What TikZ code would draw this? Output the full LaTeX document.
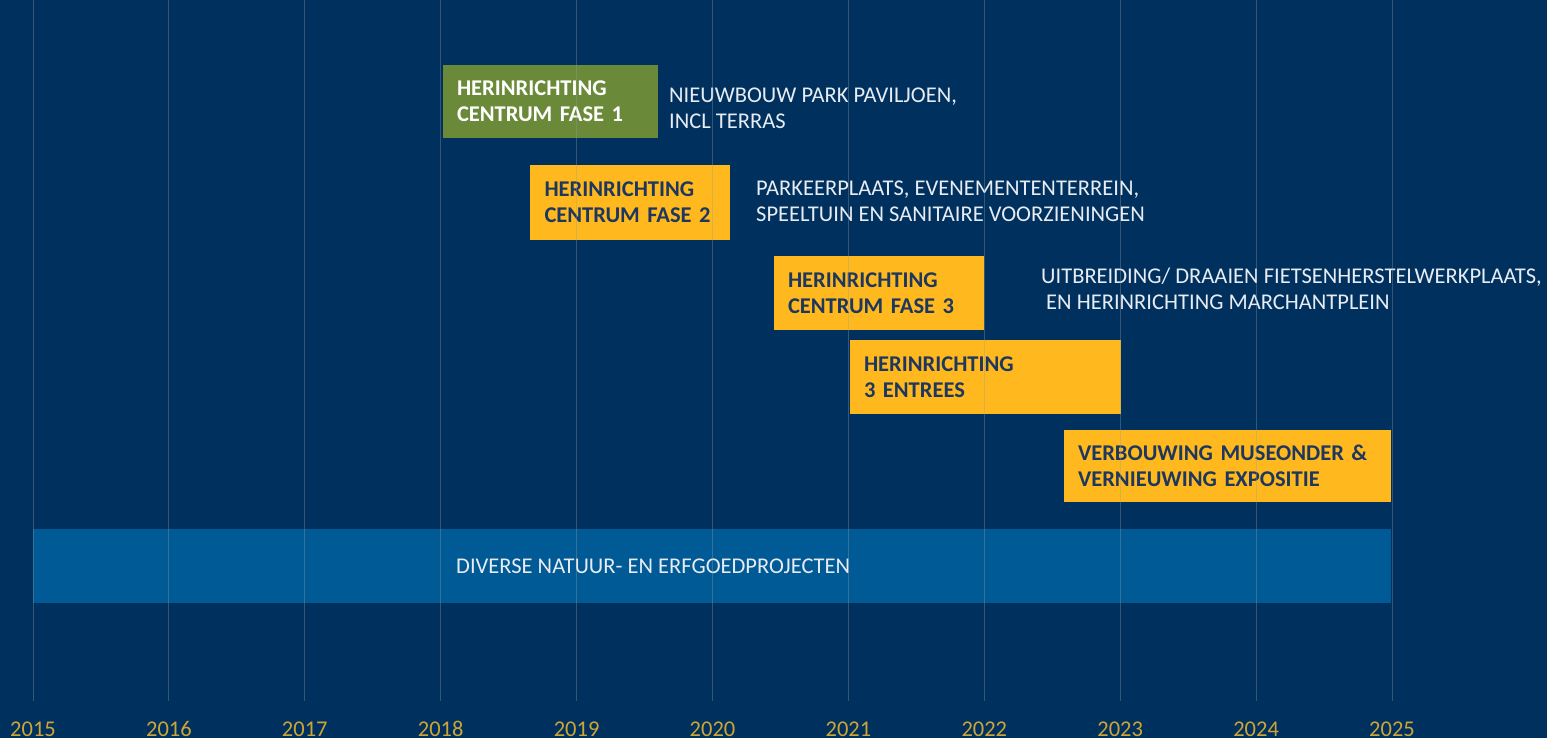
\documentclass[tikz,border=0pt]{standalone}
\usepackage{fontspec}
\setmainfont{Carlito}
\definecolor{navybg}{RGB}{0,49,94}
\definecolor{barblue}{RGB}{0,90,150}
\definecolor{boxyellow}{RGB}{255,185,30}
\definecolor{boxgreen}{RGB}{106,138,58}
\definecolor{darktext}{RGB}{30,55,95}
\definecolor{desctext}{RGB}{232,236,242}
\definecolor{yeargold}{RGB}{205,165,55}
\definecolor{gridcol}{RGB}{150,160,160}
\tikzset{
  phase/.style={draw=none, rectangle, inner xsep=14pt, inner ysep=0pt, align=left,
    font=\fontsize{22.5}{26}\selectfont\bfseries, anchor=center},
  yellowbox/.style={phase, fill=boxyellow, text=darktext},
  greenbox/.style={phase, fill=boxgreen, text=white},
  desc/.style={anchor=north west, inner sep=0pt, align=left, text=desctext,
    font=\fontsize{22.5}{26}\selectfont},
  yearlabel/.style={anchor=base, inner sep=0pt, text=yeargold,
    font=\fontsize{22.5}{26}\selectfont},
  gridline/.style={draw=gridcol, opacity=0.35, line width=1pt}
}
\begin{document}
\begin{tikzpicture}[x=1pt,y=-1pt]
\fill[navybg] (0,0) rectangle (1547,738);
\useasboundingbox (0,0) rectangle (1547,738);

% phase boxes
\node[greenbox, minimum width=215pt, minimum height=73pt, text width=187pt] (f1) at (550.5,101.5) {HERINRICHTING\\CENTRUM FASE 1};
\node[yellowbox, minimum width=200pt, minimum height=75pt, text width=171pt] (f2) at (630,202.5) {HERINRICHTING\\CENTRUM FASE 2};
\node[yellowbox, minimum width=210pt, minimum height=74pt, text width=182pt] (f3) at (879,293) {HERINRICHTING\\CENTRUM FASE 3};
\node[yellowbox, minimum width=271pt, minimum height=74pt, text width=243pt] (f4) at (985.5,377) {HERINRICHTING\\3 ENTREES};
\node[yellowbox, minimum width=327pt, minimum height=72pt, text width=299pt] (f5) at (1227.5,466) {VERBOUWING MUSEONDER \&\\VERNIEUWING EXPOSITIE};

% bar
\node[draw=none, fill=barblue, minimum width=1358pt, minimum height=74pt, inner sep=0pt] (bar) at (712,566) {};
\node[anchor=west, inner sep=0pt, text=desctext, font=\fontsize{22.5}{26}\selectfont] (barlabel) at (456,566.5) {DIVERSE NATUUR- EN ERFGOEDPROJECTEN};

% descriptions
\node[desc] (d1) at (669,88) {NIEUWBOUW PARK PAVILJOEN,\\INCL TERRAS};
\node[desc] (d2) at (756,181) {PARKEERPLAATS, EVENEMENTENTERREIN,\\SPEELTUIN EN SANITAIRE VOORZIENINGEN};
\node[desc] (d3) at (1041,268) {UITBREIDING/ DRAAIEN FIETSENHERSTELWERKPLAATS,\\\hspace*{5pt}EN HERINRICHTING MARCHANTPLEIN};

% gridlines and years
\foreach \i/\yr in {0/2015,1/2016,2/2017,3/2018,4/2019,5/2020,6/2021,7/2022,8/2023,9/2024,10/2025}{
  \coordinate (gt\yr) at ({33+135.9*\i},0);
  \coordinate (gb\yr) at ({33+135.9*\i},701);
  \draw[gridline] (gt\yr) -- (gb\yr);
  \node[yearlabel] (y\yr) at ({33+135.9*\i},736) {\yr};
}
\end{tikzpicture}
\end{document}
